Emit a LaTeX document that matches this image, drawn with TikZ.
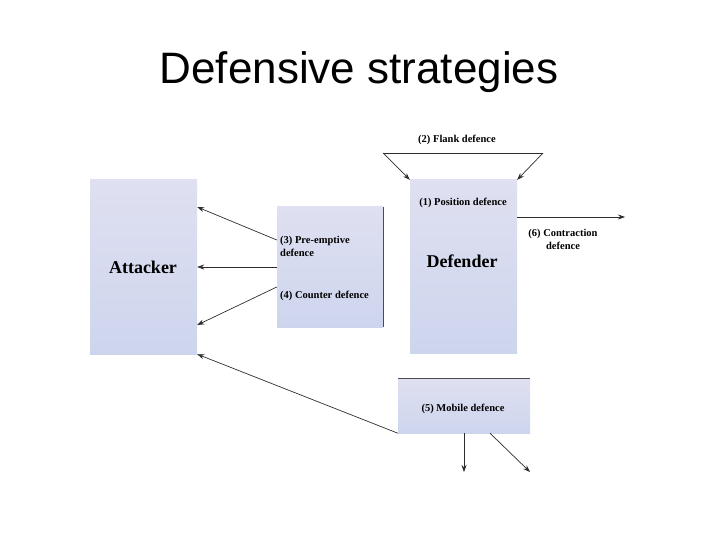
\documentclass[tikz,border=0pt]{standalone}
\usepackage{fontspec}
\setmainfont{Liberation Serif}
\newfontfamily\titlefont{Liberation Sans}
\usetikzlibrary{arrows.meta}
\definecolor{paneltop}{RGB}{223,224,241}
\definecolor{panelbot}{RGB}{205,213,237}
\definecolor{linegray}{RGB}{45,45,45}

\begin{document}
\begin{tikzpicture}[x=1pt,y=-1pt,
  panel/.style={inner sep=0pt, top color=paneltop, bottom color=panelbot, draw=none},
  lbl/.style={inner sep=0pt, font=\fontsize{10.5}{13}\selectfont\bfseries, text=black},
  big/.style={inner sep=0pt, font=\fontsize{18}{20}\selectfont\bfseries, text=black},
  arr/.style={line width=0.7pt, linegray, -{Stealth[length=7pt,width=5pt]}},
  ln/.style={line width=0.7pt, linegray}]
\useasboundingbox (0,0) rectangle (720,540);
\node[anchor=base] (title) at (359,84) {\titlefont\fontsize{44}{50}\selectfont Defensive strategies};
\node[panel, minimum width=107pt, minimum height=174pt] (att) at (143.5,267) {};
\node[panel, minimum width=106pt, minimum height=120pt] (mid) at (330,267) {};
\node[panel, minimum width=107pt, minimum height=173pt] (def) at (463.5,266.5) {};
\node[panel, minimum width=132pt, minimum height=54pt] (mob) at (464,406) {};
\draw[line width=1.2pt, black!70] (mid.north east) -- (mid.south east);
\draw[line width=1.2pt, black!70] (mob.north west) -- (mob.north east);
\node[big, anchor=base] (attTxt) at (143,273) {Attacker};
\node[big, anchor=base] (defTxt) at (462,267) {Defender};
\node[lbl, anchor=base] (posTxt) at (463,206) {(1) Position defence};
\node[lbl, anchor=base] (flankTxt) at (457,143) {(2) Flank defence};
\node[lbl, anchor=north west, align=left] (preTxt) at (280,236) {(3) Pre-emptive\\defence};
\node[lbl, anchor=base west] (cntTxt) at (280,298) {(4) Counter defence};
\node[lbl, anchor=base] (mobTxt) at (463,411) {(5) Mobile defence};
\node[lbl, anchor=north, align=center] (conTxt) at (563,229) {(6) Contraction\\defence};
\coordinate (flankL) at (383,153);
\coordinate (flankR) at (543,153);
\coordinate (conEnd) at (625,217);
\coordinate (mobEndA) at (464,472);
\coordinate (mobEndB) at (530,472);
\draw[ln] (flankL) -- (flankR);
\draw[arr] (flankL) -- (def.north west);
\draw[arr] (flankR) -- (def.north east);
\draw[arr] (def.east |- conEnd) -- (conEnd);
\draw[arr] ([yshift=27pt]mid.west) -- ([yshift=60pt]att.east);
\draw[arr] (mid.west) -- (att.east);
\draw[arr] ([yshift=-20pt]mid.west) -- ([yshift=-58pt]att.east);
\draw[arr] (mob.south west) -- (att.south east);
\draw[arr] (mob.south) -- (mobEndA);
\draw[arr] ([xshift=26pt]mob.south) -- (mobEndB);
\end{tikzpicture}
\end{document}
